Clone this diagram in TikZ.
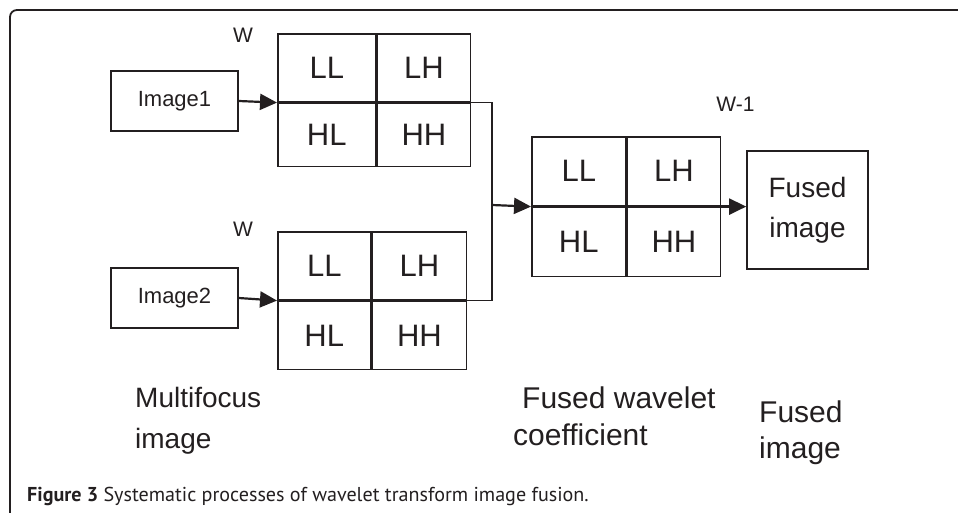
\documentclass[tikz,border=0pt]{standalone}
\usepackage{fontspec}
\setmainfont{Liberation Sans}
\newfontfamily\capfont{PT Sans}
\usepackage{tikz}
\usetikzlibrary{positioning, arrows.meta}
\definecolor{inkgray}{HTML}{231F20}
\tikzset{
	cell/.style={draw=inkgray, line width=1.6pt, inner sep=0pt, text=inkgray, font=\fontsize{31}{37}\selectfont}
}
\tikzset{
	imgbox/.style={draw=inkgray, line width=1.6pt, inner sep=0pt, text=inkgray}
}
\tikzset{
	wtext/.style={text=inkgray, inner sep=0pt, font=\fontsize{21}{25}\selectfont}
}
\tikzset{
	bigtext/.style={text=inkgray, inner sep=0pt, align=left, anchor=north west}
}
\tikzset{
	flow/.style={draw=inkgray, line width=1.6pt},
	flowarrow/.style={flow, line width=2.2pt, -{Triangle[length=17pt, width=16pt]}}
}

\begin{document}
\begin{tikzpicture}[x=1pt, y=-1pt]
      \useasboundingbox (0,0) rectangle (958,513);
      \draw[inkgray, line width=1.8pt, rounded corners=7pt] (958,10) -- (10,10) -- (10,513);
      \node[imgbox, minimum width=127pt, minimum height=60pt, font=\fontsize{22}{26}\selectfont] (img1) at (174.5,101) {Image1};
      \node[imgbox, minimum width=127pt, minimum height=60pt, font=\fontsize{22}{26}\selectfont] (img2) at (174.5,298) {Image2};
      \node[wtext] (w1) at (243,35) {W};
      \node[wtext] (w2) at (243,229) {W};
      \node[wtext] (winv) at (735.5,104) {W-1};
      \node[cell, minimum width=98pt, minimum height=68pt, anchor=north west] (ll1) at (277,33) {LL};
      \node[cell, minimum width=93pt, minimum height=68pt, right=0pt of ll1] (lh1) {LH};
      \node[cell, minimum width=98pt, minimum height=63pt, below=0pt of ll1] (hl1) {HL};
      \node[cell, minimum width=93pt, minimum height=63pt, below=0pt of lh1] (hh1) {HH};
      \node[cell, minimum width=93pt, minimum height=68pt, anchor=north west] (ll2) at (277,231) {LL};
      \node[cell, minimum width=94pt, minimum height=68pt, right=0pt of ll2] (lh2) {LH};
      \node[cell, minimum width=93pt, minimum height=68pt, below=0pt of ll2] (hl2) {HL};
      \node[cell, minimum width=94pt, minimum height=68pt, below=0pt of lh2] (hh2) {HH};
      \node[cell, minimum width=94pt, minimum height=69pt, anchor=north west] (ll3) at (531,136) {LL};
      \node[cell, minimum width=93pt, minimum height=69pt, right=0pt of ll3] (lh3) {LH};
      \node[cell, minimum width=94pt, minimum height=69pt, below=0pt of ll3] (hl3) {HL};
      \node[cell, minimum width=93pt, minimum height=69pt, below=0pt of lh3] (hh3) {HH};
      \node[imgbox, minimum width=121pt, minimum height=118pt, align=center, font=\fontsize{28}{40}\selectfont] (fused) at (807.5,210) {Fused\\image};
      \coordinate (bus) at (492,205);
      \draw[flowarrow] (img1.east) -- (ll1.south west);
      \draw[flowarrow] (img2.east) -- (ll2.south west);
      \draw[flow] (lh1.south) -| (bus) |- (lh2.south);
      \draw[flowarrow] (bus) -- (ll3.south west);
      \draw[flowarrow] (lh3.south) -- (lh3.south -| fused.west);
      \node[bigtext, font=\fontsize{28}{41}\selectfont] (multi) at (135,387) {Multifocus\\image};
      \node[bigtext, font=\fontsize{30}{37}\selectfont] (coeff) at (513,387) {\hspace*{9pt}Fused wavelet\\coefficient};
      \node[bigtext, font=\fontsize{30}{36}\selectfont] (result) at (759,401) {Fused\\image};
      \node[anchor=base west, inner sep=0pt, text=inkgray, font=\capfont\fontsize{20.1}{24}\selectfont] (caption) at (27,501.7) {\textbf{Figure 3} Systematic processes of wavelet transform image fusion.};
    \end{tikzpicture}
\end{document}
